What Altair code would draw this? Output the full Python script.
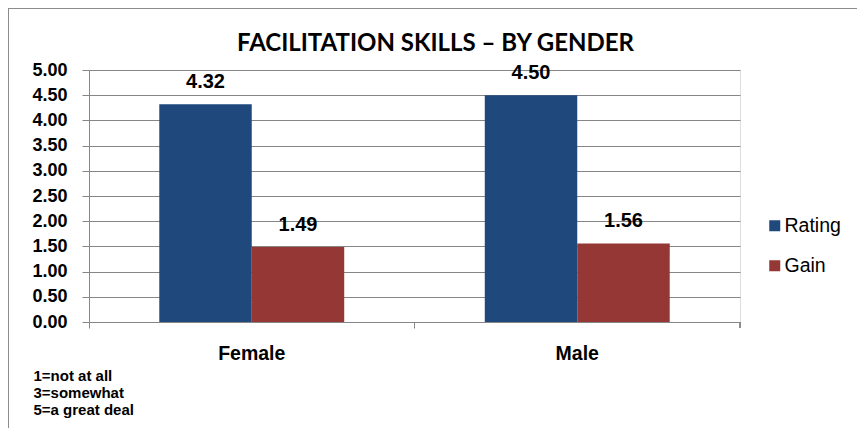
import altair as alt
import pandas as pd

genders = ["Female", "Male"]
series = ["Rating", "Gain"]
rating = [4.32, 4.50]
gain = [1.49, 1.56]
notes = ["1=not at all", "3=somewhat", "5=a great deal"]
colors = ["#1F497D", "#953735"]
y_ticks = [0.0, 0.5, 1.0, 1.5, 2.0, 2.5, 3.0, 3.5, 4.0, 4.5, 5.0]

rows = []
for g, r, gn in zip(genders, rating, gain):
    rows.append({"gender": g, "series": "Rating", "value": r})
    rows.append({"gender": g, "series": "Gain", "value": gn})
df = pd.DataFrame(rows)
df["label"] = df["value"].map(lambda v: f"{v:.2f}")

FONT = "Liberation Sans"
W, H = 651, 252

x = alt.X(
    "gender:N",
    sort=genders,
    scale=alt.Scale(paddingInner=0, paddingOuter=0),
    axis=alt.Axis(
        title=notes,
        titleX=-56,
        titleY=46,
        titleAlign="left",
        titleAnchor="start",
        titleBaseline="top",
        titleFont=FONT,
        titleFontSize=15,
        titleFontWeight="bold",
        titleLineHeight=17,
        titleColor="#000000",
        labelAngle=0,
        labelFont=FONT,
        labelFontSize=19.5,
        labelFontWeight="bold",
        labelColor="#000000",
        labelPadding=16,
        bandPosition=0,
        tickSize=6,
        tickColor="#868686",
        domainColor="#868686",
    ),
)
xoff = alt.XOffset("series:N", sort=series, scale=alt.Scale(paddingInner=0, paddingOuter=0.76))
y = alt.Y(
    "value:Q",
    scale=alt.Scale(domain=[0, 5]),
    axis=alt.Axis(
        title=None,
        values=y_ticks,
        format=".2f",
        labelOverlap=False,
        labelFont=FONT,
        labelFontSize=18,
        labelFontWeight="bold",
        labelColor="#000000",
        labelPadding=15,
        tickSize=7,
        tickColor="#868686",
        gridColor="#868686",
        domainColor="#868686",
    ),
)

bars = alt.Chart(df).mark_bar().encode(
    x=x,
    xOffset=xoff,
    y=y,
    color=alt.Color(
        "series:N",
        sort=series,
        scale=alt.Scale(domain=series, range=colors),
        legend=alt.Legend(
            title=None,
            orient="none",
            legendX=676,
            legendY=146,
            symbolType="square",
            symbolSize=121,
            symbolStrokeWidth=0,
            labelFont=FONT,
            labelFontSize=19.5,
            labelColor="#000000",
            labelOffset=0,
            rowPadding=19,
        ),
    ),
)

text = alt.Chart(df).mark_text(
    font=FONT, fontSize=20, fontWeight="bold", baseline="bottom", dy=-12, color="#000000"
).encode(
    x=alt.X("gender:N", sort=genders),
    xOffset=alt.XOffset("series:N", sort=series),
    y=y,
    text="label:N",
)

frame_top = alt.Chart(df).mark_rule(color="#8c8c8c", strokeWidth=2).encode(
    x=alt.value(-81), x2=alt.value(W + 125), y=alt.value(-62)
)
frame_left = alt.Chart(df).mark_rule(color="#8c8c8c", strokeWidth=2).encode(
    x=alt.value(-81), y=alt.value(-62), y2=alt.value(H + 120)
)
end_tick = alt.Chart(df).mark_rule(color="#868686").encode(
    x=alt.value(W), y=alt.value(H), y2=alt.value(H + 6)
)

chart = (
    alt.layer(bars, text, frame_top, frame_left, end_tick)
    .properties(
        width=W,
        height=H,
        title=alt.Title(
            "FACILITATION SKILLS – BY GENDER",
            font="Lato",
            fontSize=24,
            fontWeight="bold",
            color="#000000",
            anchor="middle",
            offset=0,
            dy=49,
            dx=21,
        ),
        padding={"left": 81, "top": 62, "right": 117, "bottom": 112},
        autosize=alt.AutoSizeParams(type="none"),
    )
    .configure_view(stroke=None)
    .configure(background="white")
)

chart.save("out.html", embed_options={"renderer": "svg", "actions": False})
